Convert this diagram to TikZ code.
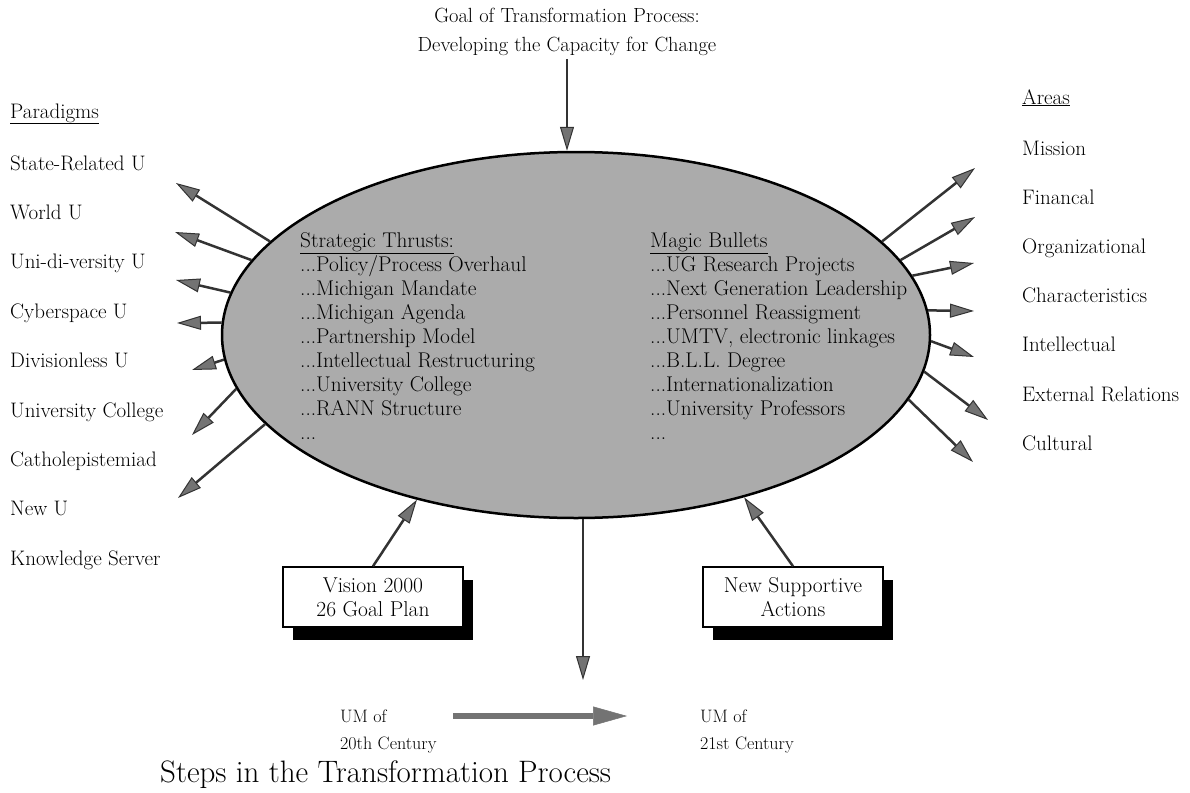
\documentclass[tikz,border=0pt]{standalone}
\usetikzlibrary{arrows.meta,shapes.geometric,shadows}

\begin{document}
\begin{tikzpicture}[x=1pt,y=-1pt,
    side node/.style={anchor=base west,inner sep=0,font=\fontsize{21}{24}\selectfont},
    in node/.style={anchor=base west,inner sep=0,font=\fontsize{21.3}{24}\selectfont},
    box node/.style={draw,fill=white,line width=1.5pt,minimum width=180pt,minimum height=60pt,align=center,
        font=\fontsize{21.5}{24}\selectfont,drop shadow={shadow xshift=10pt,shadow yshift=-13pt,fill=black,opacity=1}},
    out arrow/.style={draw=black!80,line width=2.5pt,-{Triangle[length=24pt,width=14pt,fill=black!55,line width=1pt]}},
    big arrow/.style={draw=black!55,line width=6pt,-{Triangle[length=34pt,width=19pt,fill=black!55,line width=0.5pt]}}]

    \useasboundingbox (0,0) rectangle (1190,792);

    % the core ellipse
    \node[ellipse,draw,line width=2.5pt,fill=black!33,minimum width=708pt,minimum height=366pt] (core) at (576,335) {};

    \node[align=center,anchor=north,inner sep=3pt,font=\fontsize{20.5}{29}\selectfont] (goal) at (567,5)
        {Goal of Transformation Process:\\Developing the Capacity for Change};
    \draw[out arrow] (goal.south) -- (goal.south |- core.north);

    % paradigms, left
    \node[side node] (par0) at (10,118) {\underline{Paradigms}};
    \foreach \t [count=\i] in {State-Related U,World U,Uni-di-versity U,Cyberspace U,Divisionless U,
        University College,Catholepistemiad,New U,Knowledge Server}
        \node[side node] (par\i) at (10,{170+49.4*(\i-1)}) {\t};

    % areas, right
    \node[side node] (area0) at (1022,104) {\underline{Areas}};
    \foreach \t [count=\i] in {Mission,Financal,Organizational,Characteristics,Intellectual,
        External Relations,Cultural}
        \node[side node] (area\i) at (1022,{155+49.2*(\i-1)}) {\t};

    % text in the ellipse
    \node[in node] (st0) at (300,247) {\underline{Strategic Thrusts:}};
    \foreach \t [count=\i] in {Policy/Process Overhaul,Michigan Mandate,Michigan Agenda,
        Partnership Model,Intellectual Restructuring,University College,RANN Structure}
        \node[in node] (st\i) at (300,{247+24*\i}) {...\t};
    \node[in node] (st8) at (300,439) {...};
    \node[in node] (mb0) at (650,247) {\underline{Magic Bullets}};
    \foreach \t [count=\i] in {UG Research Projects,Next Generation Leadership,Personnel Reassigment,
        {UMTV, electronic linkages},B.L.L. Degree,Internationalization,University Professors}
        \node[in node] (mb\i) at (650,{247+24*\i}) {...\t};
    \node[in node] (mb8) at (650,439) {...};

    % arrows out of the ellipse
    \foreach \a/\x/\y [count=\i] in {163/176/183,167/175/232,173/176/280,178/177/323,
        184/192/370,189/192/435,196/178/498}
    {
        \coordinate (pl\i) at (\x,\y);
        \draw[out arrow] (core.\a) -- (pl\i);
    }
    \foreach \a/\x/\y [count=\i] in {17/975/168,13/975/217,10/974/263,4/974/311,
        359/974/357,354/988/420,349/973/462}
    {
        \coordinate (pr\i) at (\x,\y);
        \draw[out arrow] (core.\a) -- (pr\i);
    }

    % boxes below
    \node[box node] (vis) at (373,597) {Vision 2000\\26 Goal Plan};
    \node[box node] (nsa) at (793,597) {New Supportive\\Actions};
    \draw[out arrow] (vis.north) -- (core.226);
    \draw[out arrow] (nsa.north) -- (core.316);

    \coordinate (stepdown) at (583,680);
    \draw[out arrow] (stepdown |- core.south) -- (stepdown);

    % 20th to 21st century
    \node[anchor=north west,inner sep=0,align=left,font=\fontsize{18}{27}\selectfont] (um20) at (340,710) {UM of\\20th Century};
    \node[anchor=north west,inner sep=0,align=left,font=\fontsize{18}{27}\selectfont] (um21) at (700,710) {UM of\\21st Century};
    \coordinate (from20) at (453,716);
    \coordinate (to21) at (627,716);
    \draw[big arrow] (from20) -- (to21);

    \node[anchor=base west,inner sep=0,font=\fontsize{31}{34}\selectfont] (steps) at (160,782) {Steps in the Transformation Process};
\end{tikzpicture}
\end{document}
